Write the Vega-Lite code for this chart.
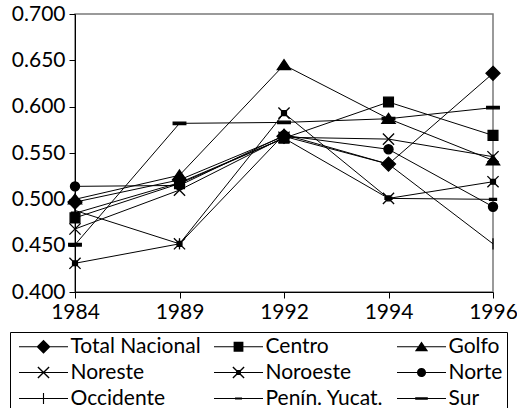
{
  "$schema": "https://vega.github.io/schema/vega-lite/v6.json",
  "width": 418,
  "height": 278,
  "autosize": "none",
  "padding": {"left": 75, "top": 14, "right": 24, "bottom": 116},
  "config": {
    "font": "Lato",
    "view": {"stroke": "#7a7a7a", "strokeWidth": 1.5},
    "axis": {"domainColor": "black", "tickColor": "black", "labelColor": "black", "labelFont": "Lato", "labelFontSize": 21, "grid": false, "title": null}
  },
  "data": {"values": [
    {"year": "1984", "series": "Occidente", "value": 0.488},
    {"year": "1989", "series": "Occidente", "value": 0.452},
    {"year": "1992", "series": "Occidente", "value": 0.570},
    {"year": "1994", "series": "Occidente", "value": 0.538},
    {"year": "1996", "series": "Occidente", "value": 0.452},
    {"year": "1984", "series": "Penín. Yucat.", "value": 0.485},
    {"year": "1989", "series": "Penín. Yucat.", "value": 0.518},
    {"year": "1992", "series": "Penín. Yucat.", "value": 0.566},
    {"year": "1994", "series": "Penín. Yucat.", "value": 0.501},
    {"year": "1996", "series": "Penín. Yucat.", "value": 0.500},
    {"year": "1984", "series": "Sur", "value": 0.451},
    {"year": "1989", "series": "Sur", "value": 0.582},
    {"year": "1992", "series": "Sur", "value": 0.583},
    {"year": "1994", "series": "Sur", "value": 0.587},
    {"year": "1996", "series": "Sur", "value": 0.599},
    {"year": "1984", "series": "Total Nacional", "value": 0.497},
    {"year": "1989", "series": "Total Nacional", "value": 0.521},
    {"year": "1992", "series": "Total Nacional", "value": 0.568},
    {"year": "1994", "series": "Total Nacional", "value": 0.538},
    {"year": "1996", "series": "Total Nacional", "value": 0.636},
    {"year": "1984", "series": "Centro", "value": 0.480},
    {"year": "1989", "series": "Centro", "value": 0.517},
    {"year": "1992", "series": "Centro", "value": 0.566},
    {"year": "1994", "series": "Centro", "value": 0.605},
    {"year": "1996", "series": "Centro", "value": 0.569},
    {"year": "1984", "series": "Golfo", "value": 0.500},
    {"year": "1989", "series": "Golfo", "value": 0.526},
    {"year": "1992", "series": "Golfo", "value": 0.645},
    {"year": "1994", "series": "Golfo", "value": 0.587},
    {"year": "1996", "series": "Golfo", "value": 0.542},
    {"year": "1984", "series": "Noreste", "value": 0.468},
    {"year": "1989", "series": "Noreste", "value": 0.510},
    {"year": "1992", "series": "Noreste", "value": 0.567},
    {"year": "1994", "series": "Noreste", "value": 0.565},
    {"year": "1996", "series": "Noreste", "value": 0.546},
    {"year": "1984", "series": "Noroeste", "value": 0.431},
    {"year": "1989", "series": "Noroeste", "value": 0.452},
    {"year": "1992", "series": "Noroeste", "value": 0.593},
    {"year": "1994", "series": "Noroeste", "value": 0.501},
    {"year": "1996", "series": "Noroeste", "value": 0.519},
    {"year": "1984", "series": "Norte", "value": 0.514},
    {"year": "1989", "series": "Norte", "value": 0.515},
    {"year": "1992", "series": "Norte", "value": 0.569},
    {"year": "1994", "series": "Norte", "value": 0.554},
    {"year": "1996", "series": "Norte", "value": 0.492}
  ]},
  "encoding": {
    "x": {"field": "year", "type": "ordinal", "scale": {"type": "point", "padding": 0}, "axis": {"labelAngle": 0, "tickSize": 6, "labelPadding": 3}},
    "y": {"field": "value", "type": "quantitative", "scale": {"domain": [0.4, 0.7], "nice": false, "zero": false}, "axis": {"values": [0.4, 0.45, 0.5, 0.55, 0.6, 0.65, 0.7], "format": ".3f", "tickSize": 6, "labelPadding": 4}}
  },
  "layer": [
    {
      "mark": {"type": "line", "color": "black", "strokeWidth": 1},
      "encoding": {"detail": {"field": "series", "type": "nominal"}}
    },
    {
      "mark": {"type": "point", "filled": true, "fill": "black", "stroke": "black", "strokeWidth": 1.3, "opacity": 1, "size": 196},
      "encoding": {
        "shape": {"field": "series", "type": "nominal", "legend": null,
          "scale": {
            "domain": ["Total Nacional", "Centro", "Golfo", "Noreste", "Noroeste", "Norte", "Occidente", "Penín. Yucat.", "Sur"],
            "range": [
              "M0,-1L1,0L0,1L-1,0Z",
              "M-0.7,-0.7L0.7,-0.7L0.7,0.7L-0.7,0.7Z",
              "M0,-0.75L0.95,0.65L-0.95,0.65Z",
              "M-0.8,-0.8L0.8,0.8M-0.8,0.8L0.8,-0.8",
              "M-0.8,-0.8L0.8,0.8M-0.8,0.8L0.8,-0.8M-0.35,-0.35L0.35,-0.35L0.35,0.35L-0.35,0.35Z",
              "M0.65,0A0.65,0.65 0 1,1 -0.65,0A0.65,0.65 0 1,1 0.65,0Z",
              "M0,-0.8L0,0.8",
              "M-0.5,-0.14L0.5,-0.14L0.5,0.14L-0.5,0.14Z",
              "M-0.9,-0.18L0.9,-0.18L0.9,0.18L-0.9,0.18Z"
            ]
          }
        }
      }
    },
    {
      "transform": [{"filter": "false"}],
      "mark": {"type": "point", "filled": true, "fill": "black", "opacity": 1, "size": 196},
      "encoding": {
        "shape": {"field": "series", "type": "nominal",
          "scale": {
            "domain": ["Total Nacional", "Centro", "Golfo", "Noreste", "Noroeste", "Norte", "Occidente", "Penín. Yucat.", "Sur"],
            "range": [
              "M-1,-0.075L6,-0.075L6,0.075L-1,0.075ZM2.5,-1L3.5,0L2.5,1L1.5,0Z",
              "M-1,-0.075L6,-0.075L6,0.075L-1,0.075ZM1.8,-0.7L3.2,-0.7L3.2,0.7L1.8,0.7Z",
              "M-1,-0.075L6,-0.075L6,0.075L-1,0.075ZM2.5,-0.75L3.45,0.65L1.55,0.65Z",
              "M-1,-0.075L6,-0.075L6,0.075L-1,0.075ZM1.77,-0.87L3.37,0.73L3.23,0.87L1.63,-0.73ZM1.63,0.73L3.23,-0.87L3.37,-0.73L1.77,0.87Z",
              "M-1,-0.075L6,-0.075L6,0.075L-1,0.075ZM1.77,-0.87L3.37,0.73L3.23,0.87L1.63,-0.73ZM1.63,0.73L3.23,-0.87L3.37,-0.73L1.77,0.87ZM2.15,-0.35L2.85,-0.35L2.85,0.35L2.15,0.35Z",
              "M-1,-0.075L6,-0.075L6,0.075L-1,0.075ZM3.15,0A0.65,0.65 0 1,1 1.85,0A0.65,0.65 0 1,1 3.15,0Z",
              "M-1,-0.075L6,-0.075L6,0.075L-1,0.075ZM2.42,-0.8L2.58,-0.8L2.58,0.8L2.42,0.8Z",
              "M-1,-0.075L6,-0.075L6,0.075L-1,0.075ZM2,-0.14L3,-0.14L3,0.14L2,0.14Z",
              "M-1,-0.075L6,-0.075L6,0.075L-1,0.075ZM1.6,-0.18L3.4,-0.18L3.4,0.18L1.6,0.18Z"
            ]
          },
          "legend": {
            "orient": "none", "legendX": -65, "legendY": 318, "direction": "horizontal", "columns": 3,
            "title": null, "strokeColor": "black", "padding": 4, "rowPadding": 4, "columnPadding": 8,
            "labelFont": "Lato", "labelFontSize": 21, "labelColor": "black", "labelOffset": 34, "symbolOffset": 1.5,
            "symbolSize": 196, "symbolFillColor": "black", "symbolStrokeWidth": 0,
            "gridAlign": "each", "labelLimit": 300,
            "encode": {"symbols": {"update": {"fill": {"value": "black"}, "opacity": {"value": 1}}}}
          }
        }
      }
    }
  ],
  "resolve": {"scale": {"shape": "independent"}, "legend": {"shape": "independent"}}
}
